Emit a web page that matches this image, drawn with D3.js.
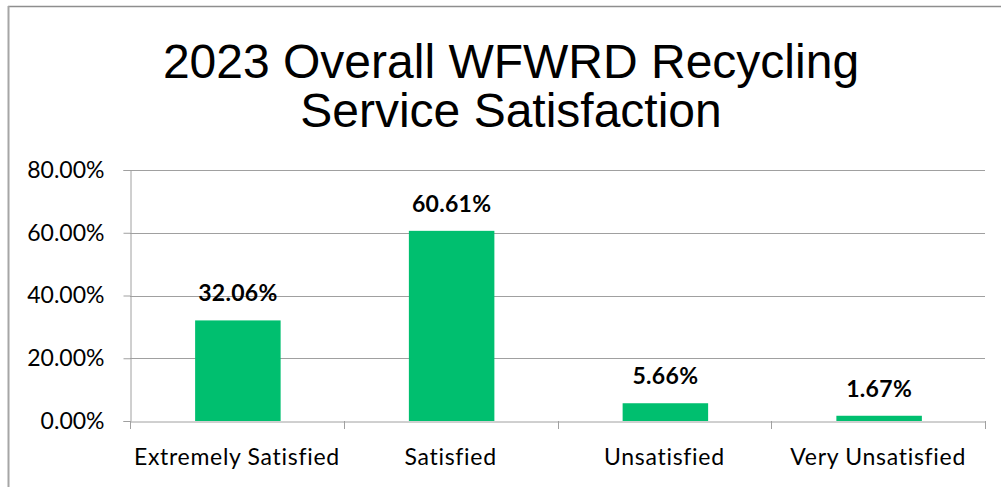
<!DOCTYPE html>
<html><head><meta charset="utf-8">
<script src="https://cdn.jsdelivr.net/npm/d3@7"></script>
<style>html,body{margin:0;padding:0;background:#fff;overflow:hidden}</style>
</head><body>
<script>
const categories = ["Extremely Satisfied", "Satisfied", "Unsatisfied", "Very Unsatisfied"];
const values = [32.06, 60.61, 5.66, 1.67];
const yTicks = [0, 20, 40, 60, 80];
const titleLines = ["2023 Overall WFWRD Recycling", "Service Satisfaction"];

const W = 1001, H = 487;
const svg = d3.select("body").append("svg").attr("width", W).attr("height", H);

// outer border (top and left)
svg.append("line").attr("x1", 8).attr("x2", W).attr("y1", 6.5).attr("y2", 6.5).attr("stroke", "#8e8e8e").attr("stroke-width", 1.5);
svg.append("line").attr("x1", 8.5).attr("x2", 8.5).attr("y1", 6).attr("y2", H).attr("stroke", "#a6a6a6").attr("stroke-width", 2);

const pLeft = 130, pRight = 985, pTop = 170, pBottom = 421;
const x = d3.scaleBand().domain(categories).range([pLeft + 1, pRight + 1]).paddingInner(0.6).paddingOuter(0.3);
const xb = d3.scaleBand().domain(categories).range([pLeft, pRight]);
const y = d3.scaleLinear().domain([0, 80]).range([pBottom, pTop]);

// title
const title = svg.append("text").attr("text-anchor", "middle")
  .attr("font-family", "Liberation Sans, Arial, sans-serif").attr("font-size", 48).attr("fill", "#000");
title.selectAll("tspan").data(titleLines).join("tspan")
  .attr("x", 511).attr("y", (d, i) => 78 + i * 49).text(d => d);

// gridlines
svg.append("g").selectAll("line").data(yTicks.filter(d => d > 0)).join("line")
  .attr("x1", pLeft).attr("x2", pRight).attr("y1", d => Math.round(y(d)) + 0.5).attr("y2", d => Math.round(y(d)) + 0.5)
  .attr("stroke", "#a0a0a0").attr("stroke-width", 1);

const labelFont = "Lato, Carlito, Calibri, sans-serif";

// y axis
const yAxis = svg.append("g").attr("transform", `translate(${pLeft + 0.5},0)`)
  .call(d3.axisLeft(y).tickValues(yTicks).tickFormat(d => d.toFixed(2) + "%").tickSize(7).tickPadding(19));
yAxis.select(".domain").attr("stroke", "#a0a0a0");
yAxis.selectAll(".tick line").attr("stroke", "#a0a0a0");
yAxis.selectAll("text").attr("font-family", labelFont).attr("font-size", 23).attr("fill", "#000");

// bars
svg.append("g").selectAll("rect").data(values).join("rect")
  .attr("x", (d, i) => x(categories[i])).attr("width", x.bandwidth())
  .attr("y", d => y(d)).attr("height", d => pBottom - y(d))
  .attr("fill", "#00bf6f");

// x axis
const xAxis = svg.append("g").attr("transform", `translate(0,${pBottom + 0.5})`)
  .call(d3.axisBottom(xb).tickSize(0).tickPadding(27));
xAxis.select(".domain").attr("stroke", "#a0a0a0");
xAxis.selectAll("text").attr("font-family", labelFont).attr("font-size", 23)
  .attr("letter-spacing", "0.7px").attr("fill", "#000");
// category boundary ticks
svg.append("g").selectAll("line").data(categories.concat(["end"])).join("line")
  .attr("x1", (d, i) => Math.round(i < categories.length ? xb(d) : pRight) + 0.5)
  .attr("x2", (d, i) => Math.round(i < categories.length ? xb(d) : pRight) + 0.5)
  .attr("y1", pBottom).attr("y2", pBottom + 8).attr("stroke", "#a0a0a0");

// data labels
svg.append("g").selectAll("text").data(values).join("text")
  .attr("x", (d, i) => xb(categories[i]) + xb.bandwidth() / 2 + 1)
  .attr("y", d => y(d) - 19)
  .attr("text-anchor", "middle")
  .attr("font-family", labelFont).attr("font-weight", "bold").attr("font-size", 23)
  .attr("letter-spacing", "0.3px")
  .attr("fill", "#000").text(d => d.toFixed(2) + "%");
</script>
</body></html>
